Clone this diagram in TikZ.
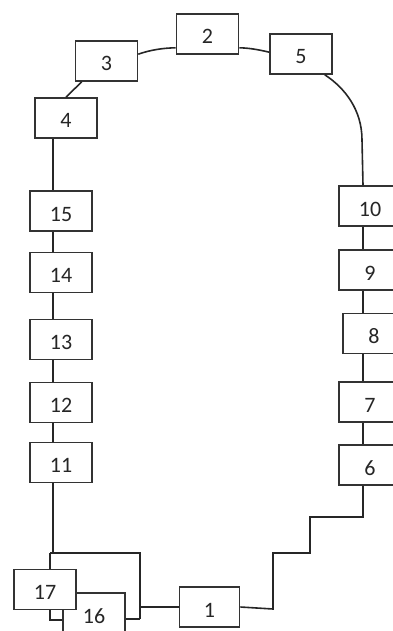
\documentclass[tikz,border=0pt]{standalone}
\usepackage{fontspec}
\setmainfont{Carlito}
\usetikzlibrary{calc}
\begin{document}
\begin{tikzpicture}[x=1pt,y=-1pt,
  box/.style={draw=black!80,fill=white,line width=1.6pt,minimum width=62pt,minimum height=40pt,inner sep=0pt,text height=20pt,text depth=0pt,font=\fontsize{22}{24}\selectfont,text=black!85},
  wire/.style={draw=black!85,line width=1.6pt}]
\useasboundingbox (0,0) rectangle (393,631);
\clip (0,0) rectangle (393,631);
% coordinates
\coordinate (lx) at (53,0);
\coordinate (rx) at (363,0);
\coordinate (ja) at (53,553);
\coordinate (jb) at (50,553);
\coordinate (jc) at (140,553);
\coordinate (jd) at (140,619);
\coordinate (je) at (50,620);
\coordinate (r1) at (363,517);
\coordinate (r2) at (310,517);
\coordinate (r3) at (310,553);
\coordinate (r4) at (273,553);
\coordinate (r5) at (273,609);
\coordinate (c5) at (362,140);
% nodes
\node[box] (n2) at (207.5,34) {2};
\node[box] (n3) at (106.5,61) {3};
\node[box] (n5) at (301,54) {5};
\node[box] (n4) at (66,118) {4};
\node[box] (n15) at (61,211) {15};
\node[box] (n14) at (61,272.5) {14};
\node[box] (n13) at (61,339.5) {13};
\node[box] (n12) at (61,402.5) {12};
\node[box] (n11) at (61,462.5) {11};
\node[box] (n10) at (370,206) {10};
\node[box] (n9) at (370,270) {9};
\node[box] (n8) at (374,333.5) {8};
\node[box] (n7) at (370,402) {7};
\node[box] (n6) at (370,465) {6};
\node[box,minimum width=60pt] (n1) at (209.5,607) {1};
% connectors
\path[wire] ($(n3.north east)+(0,14)$) .. controls (150,50) and (163,48) .. ($(n2.south west)+(0,-7)$);
\path[wire] ($(n2.south east)+(0,-7)$) .. controls (250,48) and (260,50) .. ($(n5.north west)+(0,19)$);
\path[wire] ($(n3.south west)+(7,0)$) -- (n4.north);
\path[wire] ($(n5.south east)+(-8,0)$) .. controls (345,88) and (362,110) .. (c5) -- (n10.north -| rx);
\path[wire] (n4.south -| lx) -- (n15.north -| lx);
\path[wire] (n15.south -| lx) -- (n14.north -| lx);
\path[wire] (n14.south -| lx) -- (n13.north -| lx);
\path[wire] (n13.south -| lx) -- (n12.north -| lx);
\path[wire] (n12.south -| lx) -- (n11.north -| lx);
\path[wire] (n11.south -| lx) -- (ja);
\path[wire] (jb) -- (jc) -- (jd);
\path[wire] (n1.west) -- (n1.west -| jc);
\path[wire] (n10.south -| rx) -- (n9.north -| rx);
\path[wire] (n9.south -| rx) -- (n8.north -| rx);
\path[wire] (n8.south -| rx) -- (n7.north -| rx);
\path[wire] (n7.south -| rx) -- (n6.north -| rx);
\path[wire] (n6.south -| rx) -- (r1) -- (r2) -- (r3) -- (r4) -- (r5) -- (n1.east);
\node[box] (n16) at (94,613) {16};
\node[box] (n17) at (45,589.5) {17};
\path[wire] (jb) -- (n17.north -| jb);
\path[wire] (n17.south -| je) -- (je) -- (je -| n16.west);
\path[wire] (n16.east |- jd) -- (jd);
\end{tikzpicture}
\end{document}
